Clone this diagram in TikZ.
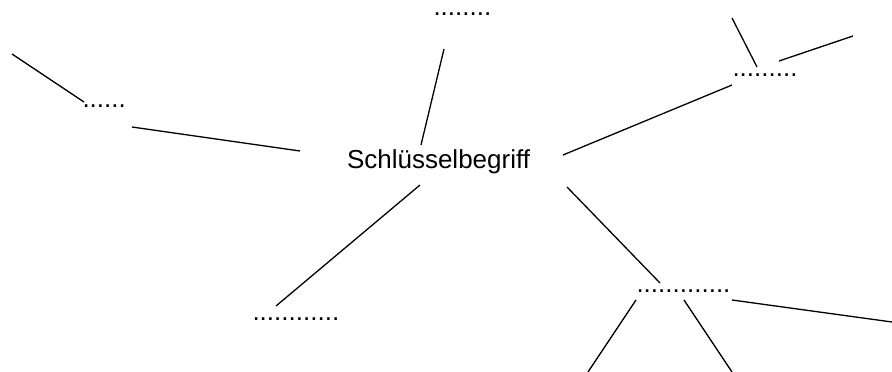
\documentclass[tikz,border=0pt]{standalone}
\usepackage{fontspec}
\setmainfont{Liberation Sans}
\begin{document}
\begin{tikzpicture}[x=1pt,y=-1pt,
  label/.style={anchor=base west,inner sep=0pt,outer sep=0pt,font=\fontsize{26}{30}\selectfont},
  link/.style={line width=1.3pt,line cap=butt}]
\fill[white] (0,0) rectangle (892,372);
\useasboundingbox (0,0) rectangle (892,372);

% key term and the blank slots around it
\node[label] (key) at (347,168.3) {Schlüsselbegriff};
\node[label] (top)   at (433.5,16)  {........};
\node[label] (tr)    at (732.5,76.5){.........};
\node[label] (left)  at (82.5,107)  {......};
\node[label] (br)    at (636.5,292) {.............};
\node[label] (bl)    at (252.5,320) {............};

% end points of the connecting lines
\coordinate (k1) at (421,145);  \coordinate (t1) at (444,49);
\coordinate (k2) at (563,155);  \coordinate (r1) at (732,85);
\coordinate (r2) at (732,18);   \coordinate (r3) at (757,67);
\coordinate (r4) at (779,61);   \coordinate (r5) at (853,36);
\coordinate (l1) at (12,54);    \coordinate (l2) at (84,102);
\coordinate (l3) at (132,127);  \coordinate (k3) at (300,151);
\coordinate (k4) at (420,185);  \coordinate (b1) at (276,306);
\coordinate (k5) at (567,187);  \coordinate (b2) at (660,283);
\coordinate (b3) at (636,300);  \coordinate (b4) at (588,372);
\coordinate (b5) at (684,300);  \coordinate (b6) at (732,372);
\coordinate (b7) at (732,300);  \coordinate (b8) at (892,322);

\draw[link] (k1) -- (t1);
\draw[link] (k2) -- (r1);
\draw[link] (r2) -- (r3);
\draw[link] (r4) -- (r5);
\draw[link] (l1) -- (l2);
\draw[link] (l3) -- (k3);
\draw[link] (k4) -- (b1);
\draw[link] (k5) -- (b2);
\draw[link] (b3) -- (b4);
\draw[link] (b5) -- (b6);
\draw[link] (b7) -- (b8);
\end{tikzpicture}
\end{document}
